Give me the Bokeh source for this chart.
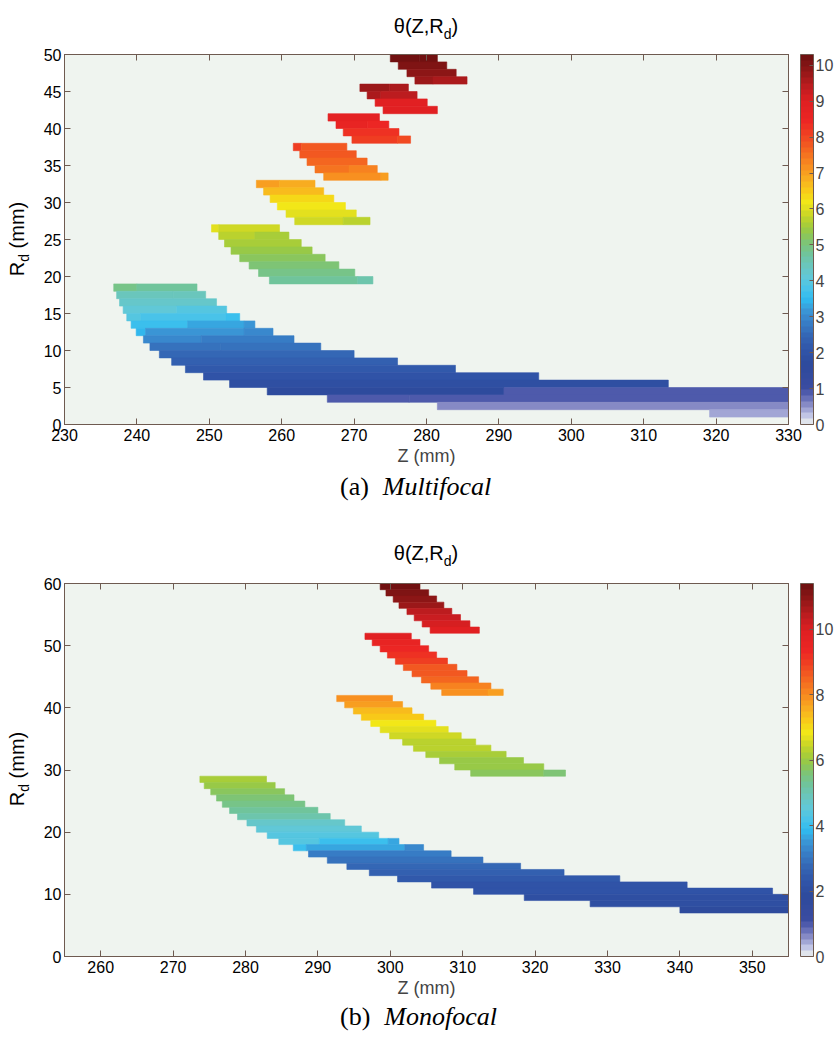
import numpy as np
from bokeh.plotting import figure
from bokeh.models import (ColumnDataSource, LinearColorMapper, ColorBar, FixedTicker,
                          LinearAxis, Range1d, Div)
from bokeh.layouts import column, row
from bokeh.embed import file_html
from bokeh.resources import INLINE

# ---------------- data: (a) Multifocal ----------------
# each entry = one constant-colour segment of a 1 mm row: R lower edge, Z start, Z end, theta
mf_r0 = [18, 18, 17, 17, 16, 15, 15, 14, 14, 14, 13, 13, 13, 12, 12, 12, 11, 11, 10, 10,
         9, 8, 7, 6, 5, 4, 4, 3, 3, 2, 1,
         26, 26, 25, 25, 24, 23, 22, 21, 20, 19, 19,
         32, 32, 31, 30, 29, 28, 27, 27,
         37, 37, 36, 35, 34, 34, 33, 33,
         41, 40, 40, 39, 38, 38,
         45, 45, 44, 44, 43, 42,
         49, 49, 48, 47, 46, 46]
mf_z0 = [236.8, 240.0, 237.2, 245.0, 237.6, 238.1, 245.5, 238.6, 240.5, 252.3, 239.2, 247.0, 254.8,
         239.9, 241.2, 254.8, 240.9, 248.9, 241.8, 251.6,
         243.1, 244.8, 246.7, 249.2, 252.8, 258.0, 290.7, 266.3, 277.6, 281.5, 319.1,
         250.3, 251.3, 251.3, 256.3, 252.1, 253.0, 254.2, 255.5, 256.8, 258.3, 270.5,
         256.5, 259.7, 257.5, 258.4, 259.4, 260.6, 261.8, 268.5,
         261.6, 262.7, 262.5, 263.5, 264.6, 269.3, 265.8, 273.7,
         266.4, 267.5, 271.8, 268.5, 269.7, 276.0,
         270.8, 274.9, 271.8, 273.7, 272.9, 274.0,
         275.0, 279.0, 276.1, 277.3, 278.4, 280.9]
mf_z1 = [240.0, 248.3, 245.0, 249.5, 251.0, 245.5, 252.4, 240.5, 252.3, 254.2, 247.0, 254.8, 256.3,
         241.2, 254.8, 258.8, 248.9, 261.7, 251.6, 265.4,
         270.0, 276.0, 284.0, 295.5, 313.4, 290.7, 330.0, 277.6, 330.0, 330.0, 330.0,
         251.3, 259.7, 256.3, 261.0, 262.7, 264.2, 266.0, 267.9, 270.1, 270.5, 272.6,
         259.7, 264.6, 265.8, 267.2, 268.8, 270.3, 268.5, 272.2,
         262.7, 269.0, 270.3, 271.8, 269.3, 273.2, 273.7, 274.7,
         273.5, 271.8, 274.8, 276.2, 276.0, 277.8,
         274.9, 277.5, 273.7, 278.7, 280.1, 281.5,
         279.0, 281.5, 282.8, 284.1, 280.9, 285.6]
mf_theta = [4.85, 4.7, 4.5, 4.4, 4.25, 4.05, 3.95, 3.95, 3.8, 3.55, 3.55, 3.35, 3.2,
            3.45, 3.2, 3.0, 2.95, 2.85, 2.7, 2.6,
            2.45, 2.3, 2.15, 2.0, 1.85, 1.75, 0.95, 0.95, 0.82, 0.62, 0.45,
            6.05, 5.9, 5.75, 5.6, 5.5, 5.4, 5.25, 5.1, 4.95, 4.75, 4.55,
            7.0, 6.85, 6.6, 6.4, 6.2, 6.05, 5.95, 5.75,
            8.1, 7.85, 7.75, 7.6, 7.45, 7.3, 7.15, 6.95,
            8.8, 8.6, 8.45, 8.3, 8.15, 8.0,
            9.75, 9.6, 9.55, 9.35, 9.0, 8.95,
            10.3, 10.15, 10.1, 9.95, 9.8, 9.55]
mf_theta_max = 10.3
mf_xticks = [230, 240, 250, 260, 270, 280, 290, 300, 310, 320, 330]
mf_yticks = [0, 5, 10, 15, 20, 25, 30, 35, 40, 45, 50]
mf_cbticks = [0, 1, 2, 3, 4, 5, 6, 7, 8, 9, 10]

# ---------------- data: (b) Monofocal ----------------
mo_r0 = [59, 58, 57, 56, 55, 54, 53, 52,
         51, 50, 49, 48, 47, 46, 45, 44, 43, 42, 42,
         41, 40, 39, 38, 37, 36, 35, 34, 33, 32, 31, 30, 29, 29,
         28, 27, 26, 25, 24, 23, 22, 21, 20, 19, 18, 18, 18, 17, 17, 17,
         16, 15, 14, 13, 12, 11, 10, 9, 8, 7]
mo_z0 = [298.6, 299.4, 300.4, 301.2, 302.3, 303.3, 304.4, 305.5,
         296.5, 297.5, 298.6, 299.6, 300.7, 301.8, 303.0, 304.3, 305.6, 307.1, 313.5,
         292.6, 293.7, 294.9, 296.0, 297.3, 298.6, 299.9, 301.7, 303.2, 304.9, 306.8, 308.9, 311.1, 321.2,
         273.7, 274.3, 275.2, 276.0, 276.8, 277.8, 278.9, 280.2, 281.5, 283.0, 284.6, 290.2, 299.7,
         286.6, 288.4, 302.0,
         288.7, 291.3, 294.0, 297.1, 301.0, 305.7, 311.5, 318.5, 327.6, 340.0]
mo_z1 = [304.1, 305.3, 306.4, 307.4, 308.5, 309.7, 311.0, 312.3,
         302.9, 304.1, 305.3, 306.4, 307.9, 309.2, 310.6, 312.2, 313.9, 313.5, 315.6,
         300.3, 301.7, 303.0, 304.6, 306.3, 308.0, 309.8, 311.8, 313.9, 316.0, 318.4, 321.2, 321.2, 324.2,
         282.9, 284.1, 285.4, 286.7, 288.2, 290.0, 291.7, 293.7, 296.0, 298.4, 290.2, 299.7, 301.2,
         288.4, 302.0, 304.6,
         308.4, 312.8, 318.0, 324.0, 331.7, 341.0, 352.8, 355.0, 355.0, 355.0]
mo_theta = [11.35, 11.15, 10.95, 10.75, 10.5, 10.3, 10.1, 9.9,
            9.8, 9.6, 9.4, 9.2, 8.95, 8.7, 8.55, 8.4, 8.15, 8.0, 7.75,
            8.0, 7.75, 7.45, 7.25, 6.9, 6.75, 6.55, 6.35, 6.25, 6.15, 6.05, 5.9, 5.75, 5.6,
            6.1, 5.95, 5.8, 5.65, 5.4, 5.2, 5.0, 4.8, 4.6, 4.4, 4.3, 4.0, 3.6,
            4.0, 3.6, 3.35,
            3.2, 2.95, 2.8, 2.6, 2.45, 2.3, 2.2, 2.1, 2.0, 1.95]
mo_theta_max = 11.4
mo_xticks = [260, 270, 280, 290, 300, 310, 320, 330, 340, 350]
mo_yticks = [0, 10, 20, 30, 40, 50, 60]
mo_cbticks = [0, 2, 4, 6, 8, 10]

TITLE_HTML = "θ(Z,R<span style='font-size:14px;position:relative;top:6px;'>d</span>)"
YLABEL_HTML = "R<span style='font-size:14px;position:relative;top:5px;'>d</span> (mm)"

# ---------------- style ----------------
AX = "#6e5a50"
BG = "#eff4ef"
FONT = "Liberation Sans"
SERIF = "Liberation Serif"

CMAP_ANCHORS = [
    (0.000, "#eff4ef"), (0.020, "#c8cce8"), (0.040, "#a0a4d4"), (0.060, "#7c80c0"),
    (0.080, "#5660b0"), (0.100, "#3a4ca0"), (0.160, "#2e4a9c"), (0.200, "#3054a8"),
    (0.240, "#3466b4"), (0.280, "#3880c8"), (0.310, "#3a9ad8"), (0.340, "#30bcf0"),
    (0.370, "#4cc4e8"), (0.400, "#62c8d6"), (0.430, "#6ac6bc"), (0.460, "#70c49c"),
    (0.490, "#7cc478"), (0.520, "#94c84a"), (0.550, "#b4d030"), (0.580, "#dcdc20"),
    (0.600, "#f2e818"), (0.630, "#f8cc18"), (0.660, "#f8b020"), (0.700, "#f88c20"),
    (0.740, "#f46820"), (0.780, "#f04422"), (0.820, "#ec2624"), (0.870, "#e02022"),
    (0.910, "#c01c20"), (0.950, "#961818"), (1.000, "#6a1010"),
]


def palette64(anchors):
    fr = np.array([a[0] for a in anchors])
    rgb = np.array([[int(h[i:i + 2], 16) for i in (1, 3, 5)] for _, h in anchors], float)
    out = []
    for k in range(64):
        t = (k + 0.5) / 64
        c = tuple(int(round(np.interp(t, fr, rgb[:, j]))) for j in range(3))
        out.append("#%02x%02x%02x" % c)
    return out


PAL = palette64(CMAP_ANCHORS)

FIG_W = 800
LEFT = 30
FRAME_W = 724
RIGHT = FIG_W - LEFT - FRAME_W


def make_panel(r0, z0, z1, th, vmax, xr, yr, xt, yt, cbt, top, frame_h, bottom):
    mapper = LinearColorMapper(palette=PAL, low=0, high=vmax)
    p = figure(width=FIG_W, height=top + frame_h + bottom,
               x_range=Range1d(*xr), y_range=Range1d(*yr),
               output_backend="svg", toolbar_location=None,
               min_border_left=LEFT, min_border_right=RIGHT, min_border_top=top,
               min_border_bottom=bottom, background_fill_color=BG,
               border_fill_color="white", outline_line_color=AX)
    p.grid.visible = False
    src = ColumnDataSource(dict(z0=z0, z1=z1, r0=r0, r1=[r + 1 for r in r0], th=th))
    p.quad(left="z0", right="z1", bottom="r0", top="r1", source=src,
           fill_color={"field": "th", "transform": mapper},
           line_color={"field": "th", "transform": mapper}, line_width=0.6)

    for ax, ticks in ((p.xaxis[0], xt), (p.yaxis[0], yt)):
        ax.ticker = FixedTicker(ticks=ticks)
        ax.major_tick_in = 6
        ax.major_tick_out = 0
        ax.minor_tick_line_color = None
        ax.axis_line_color = AX
        ax.major_tick_line_color = AX
        ax.major_label_text_font = FONT
        ax.major_label_text_font_size = "16px"
        ax.major_label_text_color = "black"
    p.xaxis.major_label_standoff = 4
    p.yaxis.major_label_standoff = 3
    p.xaxis.axis_label = "Z (mm)"
    p.xaxis.axis_label_text_font = FONT
    p.xaxis.axis_label_text_font_size = "18px"
    p.xaxis.axis_label_text_font_style = "normal"
    p.xaxis.axis_label_standoff = 2

    for loc, ticks in (("above", xt), ("right", yt)):
        ax = LinearAxis(ticker=FixedTicker(ticks=ticks),
                        major_label_overrides={t: "" for t in ticks},
                        major_label_text_font_size="0px",
                        major_tick_in=6, major_tick_out=0, minor_tick_line_color=None,
                        axis_line_color=AX, major_tick_line_color=AX,
                        major_label_standoff=0)
        p.add_layout(ax, loc)

    cb = ColorBar(color_mapper=mapper, ticker=FixedTicker(ticks=cbt), width=13, height=frame_h,
                  location=(FRAME_W + 12, 0), padding=0, margin=0,
                  bar_line_color=AX, major_tick_line_color=AX, major_tick_in=4,
                  major_tick_out=0, minor_tick_line_color=None,
                  major_label_text_font=FONT, major_label_text_font_size="16px",
                  label_standoff=2, background_fill_color=None, border_line_color=None)
    p.add_layout(cb, "center")
    return p


def title_div(height, center_y):
    html = ("<div style=\"position:relative;width:834px;height:%dpx;\">"
            "<div style=\"position:absolute;left:426px;top:%dpx;transform:translate(-50%%,-50%%);"
            "white-space:nowrap;font-family:'%s';font-size:20px;line-height:22px;color:black;\">%s</div>"
            "</div>") % (height, center_y, FONT, TITLE_HTML)
    return Div(text=html, width=834, height=height, margin=0)


def ylabel_div(height, center_y):
    html = ("<div style=\"position:relative;width:34px;height:%dpx;\">"
            "<div style=\"position:absolute;left:18px;top:%dpx;"
            "transform:translate(-50%%,-50%%) rotate(-90deg);white-space:nowrap;"
            "font-family:'%s';font-size:20px;line-height:22px;color:black;\">%s</div>"
            "</div>") % (height, center_y, FONT, YLABEL_HTML)
    return Div(text=html, width=34, height=height, margin=0)


def caption_div(height, center_y, letter, word):
    html = ("<div style=\"position:relative;width:834px;height:%dpx;\">"
            "<div style=\"position:absolute;left:340px;top:%dpx;transform:translateY(-50%%);"
            "white-space:nowrap;font-family:'%s';font-size:26px;line-height:28px;color:black;\">"
            "(%s)<i style=\"margin-left:14px;\">%s</i></div>"
            "</div>") % (height, center_y, SERIF, letter, word)
    return Div(text=html, width=834, height=height, margin=0)


pa = make_panel(mf_r0, mf_z0, mf_z1, mf_theta, mf_theta_max, (230, 330), (0, 50),
                mf_xticks, mf_yticks, mf_cbticks, 14, 370, 50)
pb = make_panel(mo_r0, mo_z0, mo_z1, mo_theta, mo_theta_max, (255, 355), (0, 60),
                mo_xticks, mo_yticks, mo_cbticks, 13, 373, 50)

layout = column(
    title_div(40, 27),
    row(ylabel_div(434, 14 + 185), pa, spacing=0),
    caption_div(56, 13, "a", "Multifocal"),
    title_div(40, 24),
    row(ylabel_div(436, 13 + 186), pb, spacing=0),
    caption_div(30, 11, "b", "Monofocal"),
    spacing=0,
)
open("out.html", "w").write(file_html(layout, INLINE))
